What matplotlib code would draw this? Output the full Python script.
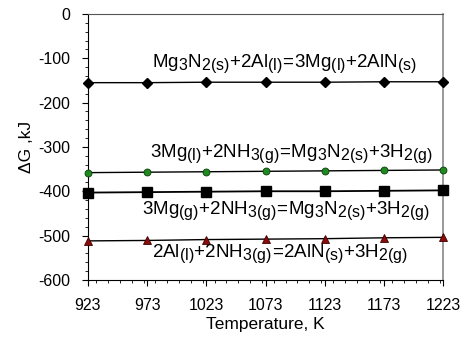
import matplotlib.pyplot as plt
import matplotlib._mathtext as mathtext_internal
from matplotlib.ticker import MultipleLocator

plt.rcParams['font.family'] = ['Liberation Sans', 'DejaVu Sans']
plt.rcParams['mathtext.fontset'] = 'custom'
plt.rcParams['mathtext.rm'] = 'Liberation Sans'
plt.rcParams['mathtext.it'] = 'Liberation Sans'
plt.rcParams['axes.unicode_minus'] = False
# subscripts in the original are only slightly smaller than the main text
mathtext_internal.SHRINK_FACTOR = 0.85

# Data: temperature (K) and Gibbs energy change (kJ) for each reaction
temps = [923, 973, 1023, 1073, 1123, 1173, 1223]
dg_mg3n2_al = [-155, -155, -154, -154, -154, -153, -153]
dg_mgl_nh3 = [-358, -357, -356, -355, -354, -353, -352]
dg_mgg_nh3 = [-403, -402, -401, -400, -400, -399, -398]
dg_al_nh3 = [-512, -511, -509, -508, -507, -505, -504]

labels = [
    r'$\mathregular{Mg_3N_{2(s)}{+}2Al_{(l)}\!{=}\!3Mg_{(l)}{+}2AlN_{(s)}}$',
    r'$\mathregular{3Mg_{(l)}{+}2NH_{3(g)}\!{=}\!Mg_3N_{2(s)}{+}3H_{2(g)}}$',
    r'$\mathregular{3Mg_{(g)}{+}2NH_{3(g)}\!{=}\!Mg_3N_{2(s)}{+}3H_{2(g)}}$',
    r'$\mathregular{2Al_{(l)}{+}2NH_{3(g)}\!{=}\!2AlN_{(s)}{+}3H_{2(g)}}$',
]
label_pos = [(977, -113), (975, -315), (969, -445), (977, -540)]

fig = plt.figure(figsize=(4.63, 3.49), dpi=100)
ax = fig.add_axes([0.190, 0.198, 0.767, 0.762])

ax.plot(temps, dg_mg3n2_al, color='black', lw=1, marker='D', ms=5.5,
        mfc='black', mec='black', clip_on=False, zorder=3)
ax.plot(temps, dg_mgl_nh3, color='black', lw=1, marker='o', ms=5,
        mfc='#1f8a1f', mec='#0b3d0b', mew=0.6, clip_on=False, zorder=3)
ax.plot(temps, dg_mgg_nh3, color='black', lw=1.3, marker='s', ms=6.5,
        mfc='black', mec='black', clip_on=False, zorder=3)
ax.plot(temps, dg_al_nh3, color='black', lw=1, marker='^', ms=6,
        mfc='#8b0a0a', mec='#3a0000', mew=0.6, clip_on=False, zorder=3)

for text, (x, y) in zip(labels, label_pos):
    ax.text(x, y, text, fontsize=13.5, va='center', ha='left')

ax.set_xlim(923, 1223)
ax.set_ylim(-600, 0)
ax.set_xticks(temps)
ax.set_yticks(range(-600, 1, 100))
ax.xaxis.set_minor_locator(MultipleLocator(10))
ax.yaxis.set_minor_locator(MultipleLocator(20))
ax.tick_params(axis='both', which='major', labelsize=11.5, direction='out',
               length=4, width=0.8, pad=9)
ax.tick_params(axis='both', which='minor', direction='out', length=2.5, width=0.6)
ax.tick_params(top=False, right=False, which='both')

ax.spines['top'].set_color('#555555')
ax.spines['right'].set_color('#888888')
ax.spines['right'].set_linewidth(1.2)

ax.set_xlabel('Temperature, K', fontsize=12.5, labelpad=3)
ax.set_ylabel('ΔG ,kJ', fontsize=12.5, labelpad=3)

fig.savefig('out.png', dpi=100)
